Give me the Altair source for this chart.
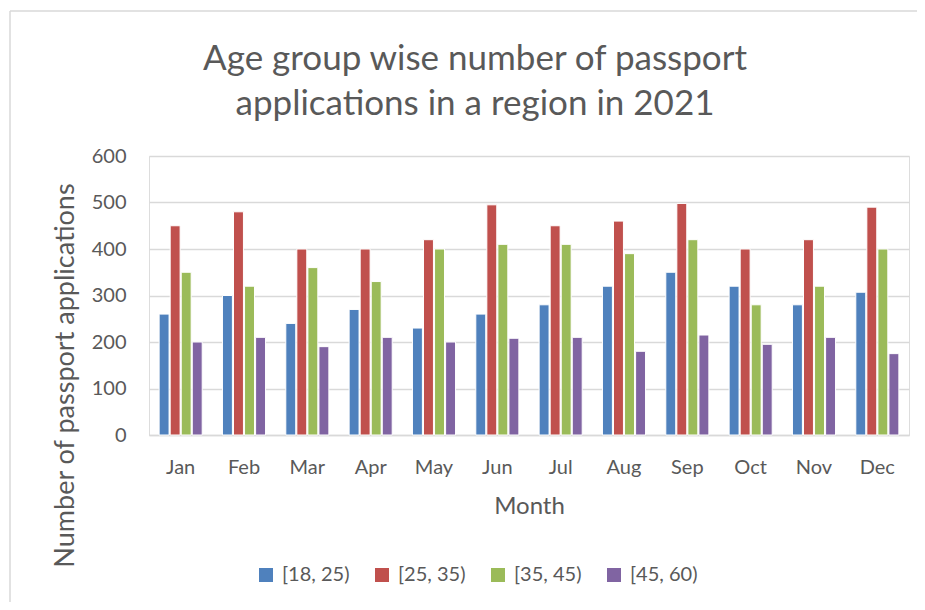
import altair as alt
import pandas as pd

months = ["Jan", "Feb", "Mar", "Apr", "May", "Jun", "Jul", "Aug", "Sep", "Oct", "Nov", "Dec"]
groups = ["[18, 25)", "[25, 35)", "[35, 45)", "[45, 60)"]
g18_25 = [260, 300, 240, 270, 230, 260, 280, 320, 350, 320, 280, 307]
g25_35 = [450, 480, 400, 400, 420, 495, 450, 460, 498, 400, 420, 490]
g35_45 = [350, 320, 360, 330, 400, 410, 410, 390, 420, 280, 320, 400]
g45_60 = [200, 210, 190, 210, 200, 208, 210, 180, 215, 195, 210, 175]
colors = ["#4F81BD", "#C0504D", "#9BBB59", "#8064A2"]

rows = []
for g, vals in zip(groups, [g18_25, g25_35, g35_45, g45_60]):
    for m, v in zip(months, vals):
        rows.append({"Month": m, "Group": g, "Value": v})
df = pd.DataFrame(rows)

FONT = "Lato"
TXT = "#595959"
GRID = "#D9D9D9"

bars = alt.Chart(df).mark_bar(stroke="white", strokeWidth=1).encode(
    x=alt.X("Month:N", sort=months,
            scale=alt.Scale(paddingInner=0.32, paddingOuter=0.16),
            axis=alt.Axis(title="Month", labelAngle=0, ticks=False, domain=True,
                          domainColor=GRID, domainWidth=1.5,
                          labelFont=FONT, labelFontSize=20, labelColor=TXT,
                          labelBaseline="alphabetic", labelPadding=38,
                          titleFont=FONT, titleFontSize=24, titleColor=TXT,
                          titleFontWeight="normal", titleBaseline="alphabetic",
                          titleY=78, titleX=380, titleAlign="center")),
    xOffset=alt.XOffset("Group:N", sort=groups, scale=alt.Scale(paddingInner=0.1)),
    y=alt.Y("Value:Q",
            scale=alt.Scale(domain=[0, 600], nice=False),
            axis=alt.Axis(title="Number of passport applications",
                          values=[0, 100, 200, 300, 400, 500, 600],
                          ticks=False, domain=False, grid=True,
                          gridColor=GRID, gridWidth=1.5,
                          labelFont=FONT, labelFontSize=20, labelColor=TXT,
                          labelPadding=23,
                          titleFont=FONT, titleFontSize=27, titleColor=TXT,
                          titleFontWeight="normal", titleAngle=270,
                          titleBaseline="alphabetic", titleAlign="center",
                          titleX=-76, titleY=219)),
    color=alt.Color("Group:N", sort=groups,
                    scale=alt.Scale(domain=groups, range=colors),
                    legend=alt.Legend(title=None, orient="none", legendX=107, legendY=409,
                                      direction="horizontal", columns=4,
                                      symbolType="square", symbolSize=196,
                                      symbolStrokeWidth=0, labelFont=FONT,
                                      labelFontSize=20, labelColor=TXT,
                                      labelOffset=6, columnPadding=22, padding=0)),
)

one = pd.DataFrame({"a": [0]})
top_line = alt.Chart(one).mark_rule(stroke=GRID, strokeWidth=1.5).encode(
    x=alt.value(-139), x2=alt.value(790), y=alt.value(-145)
)
left_line = alt.Chart(one).mark_rule(stroke=GRID, strokeWidth=1.5).encode(
    x=alt.value(-139), y=alt.value(-145), y2=alt.value(470)
)

chart = alt.layer(top_line, left_line, bars).properties(
    width=760, height=279,
    autosize=alt.AutoSizeParams(type="none"),
    padding={"left": 141, "top": 148, "right": 8, "bottom": 167},
    title=alt.TitleParams(
        text=["Age group wise number of passport", "applications in a region in 2021"],
        font=FONT, fontSize=35, fontWeight="normal", color=TXT,
        anchor="middle", frame="group", dx=-54, dy=112, lineHeight=45, offset=0,
    ),
).configure_view(stroke=None).configure(background="white")

chart.save("out.html", embed_options={"renderer": "svg", "actions": False})
